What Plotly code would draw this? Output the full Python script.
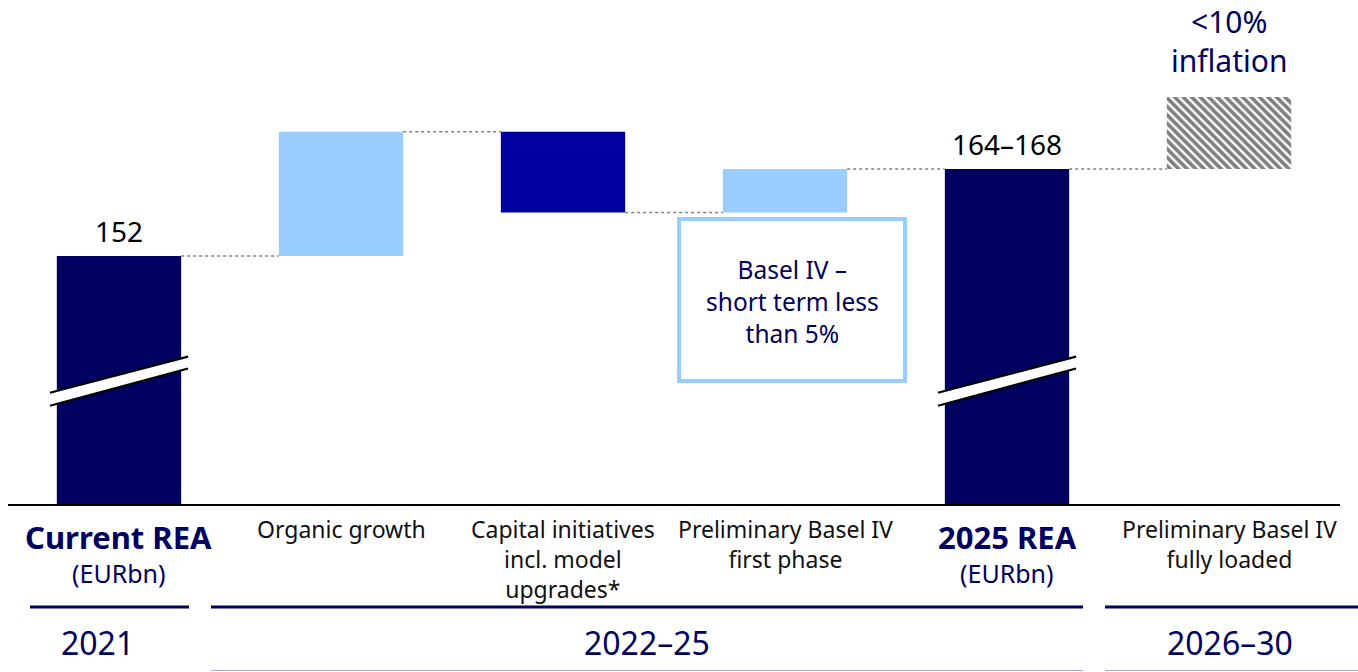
import plotly.graph_objects as go

# Waterfall of risk exposure amount (EURbn)
categories = [
    "Current REA",
    "Organic growth",
    "Capital initiatives<br>incl. model<br>upgrades*",
    "Preliminary Basel IV<br>first phase",
    "2025 REA",
    "Preliminary Basel IV<br>fully loaded",
]
step_values = [152, 20, -13, 7, 166, 11.6]
measures = ["total", "relative", "relative", "relative", "total", "relative"]
value_labels = ["152", "", "", "", "164–168", "<10%<br>inflation"]
period_labels = ["2021", "2022–25", "2026–30"]

NAVY = "#000060"
LIGHT = "#99ccff"
MID = "#0000a0"
bar_colors = [NAVY, LIGHT, MID, LIGHT, NAVY, "white"]

W, H = 1358, 672
PLOT_BOTTOM = 505          # pixel row of the baseline
Y_RANGE = [111.93, 193.2]  # broken axis: values below ~112 are cut away
BAR_W = 0.56

# running levels of the waterfall
bases, heights, levels = [], [], []
level = 0
for v, m in zip(step_values, measures):
    if m == "total":
        bases.append(0)
        heights.append(v)
        level = v
    else:
        bases.append(level)
        heights.append(v)
        level = level + v
    levels.append(level)

x = list(range(len(categories)))

fig = go.Figure()

# solid bars
fig.add_trace(go.Bar(
    x=x[:-1], y=heights[:-1], base=bases[:-1], width=BAR_W,
    marker=dict(color=bar_colors[:-1], line=dict(width=0)),
    hoverinfo="skip", showlegend=False,
))
# hatched outlook bar
fig.add_trace(go.Bar(
    x=[x[-1]], y=[heights[-1]], base=[bases[-1]], width=BAR_W,
    marker=dict(color="white", line=dict(width=0),
                pattern=dict(shape="\\", fgcolor="black", bgcolor="white",
                             size=6, solidity=0.6)),
    hoverinfo="skip", showlegend=False,
))

# dotted connectors between consecutive bars
for i in range(len(categories) - 1):
    fig.add_trace(go.Scatter(
        x=[x[i] + BAR_W / 2, x[i + 1] - BAR_W / 2], y=[levels[i], levels[i]],
        mode="lines", line=dict(color="#808080", width=1.3, dash="dot"),
        hoverinfo="skip", showlegend=False,
    ))

shapes = []
# axis-break marks on the two total bars
for i, m in enumerate(measures):
    if m != "total":
        continue
    x0, x1 = i - 0.311, i + 0.311
    shapes.append(dict(type="path", xref="x", yref="y",
                       path=f"M {x0},127.9 L {x1},133.9 L {x1},135.8 L {x0},130.0 Z",
                       fillcolor="white", line=dict(width=0), layer="above"))
    for y0, y1 in [(130.0, 135.8), (127.9, 133.9)]:
        shapes.append(dict(type="line", xref="x", yref="y", x0=x0, y0=y0, x1=x1, y1=y1,
                           line=dict(color="black", width=2.2), layer="above"))


def py(p):
    """pixel row -> paper y"""
    return (PLOT_BOTTOM - p) / PLOT_BOTTOM


def px(p):
    return p / W


# baseline
shapes.append(dict(type="line", xref="paper", yref="paper", x0=px(8), x1=px(1340),
                   y0=py(505), y1=py(505), line=dict(color="black", width=2.2)))
# period underlines
for a, b in [(30, 189), (211, 1083), (1105, 1358)]:
    shapes.append(dict(type="line", xref="paper", yref="paper", x0=px(a), x1=px(b),
                       y0=py(607), y1=py(607), line=dict(color=NAVY, width=3)))
for a, b in [(211, 1083), (1105, 1358)]:
    shapes.append(dict(type="line", xref="paper", yref="paper", x0=px(a), x1=px(b),
                       y0=py(670.5), y1=py(670.5), line=dict(color="#a8a8c8", width=1)))
# callout box
shapes.append(dict(type="rect", xref="paper", yref="paper", x0=px(679), x1=px(905),
                   y0=py(219), y1=py(381), line=dict(color=LIGHT, width=4),
                   fillcolor="white"))

FONT = "Noto Sans"
annotations = []


def note(**kw):
    kw.setdefault("showarrow", False)
    kw.setdefault("xanchor", "center")
    kw.setdefault("yanchor", "middle")
    annotations.append(kw)


# category labels
for i, (c, m) in enumerate(zip(categories, measures)):
    if m == "total":
        note(x=i, xref="x", y=py(537), yref="paper", text=f"<b>{c}</b>",
             font=dict(family=FONT, size=31, color=NAVY))
        note(x=i, xref="x", y=py(573), yref="paper", text="(EURbn)",
             font=dict(family=FONT, size=25, color=NAVY))
    else:
        note(x=i, xref="x", y=py(511), yref="paper", yanchor="top", text=c,
             font=dict(family=FONT, size=23, color="#111111"))

# value labels above bars
for i, t in enumerate(value_labels):
    if not t:
        continue
    top = bases[i] + heights[i]
    if "<br>" in t:
        note(x=i, xref="x", y=top, yref="y", yanchor="bottom", yshift=14, text=t,
             font=dict(family=FONT, size=30, color=NAVY))
    else:
        note(x=i, xref="x", y=top, yref="y", yanchor="bottom", yshift=4, text=t,
             font=dict(family=FONT, size=28, color="black"))

# period labels
for t, cx in zip(period_labels, [98, 647, 1230]):
    note(x=px(cx), xref="paper", y=py(642), yref="paper", text=t,
         font=dict(family=FONT, size=32, color=NAVY))

# callout text
note(x=px(792), xref="paper", y=py(301), yref="paper",
     text="Basel IV –<br>short term less<br>than 5%",
     font=dict(family=FONT, size=24.5, color=NAVY))

fig.update_layout(
    width=W, height=H,
    margin=dict(l=0, r=0, t=0, b=H - PLOT_BOTTOM),
    paper_bgcolor="white", plot_bgcolor="white",
    xaxis=dict(range=[-0.536, 5.581], visible=False, fixedrange=True),
    yaxis=dict(range=Y_RANGE, visible=False, fixedrange=True),
    barmode="overlay",
    shapes=shapes,
    annotations=annotations,
    showlegend=False,
)

fig.write_html("out.html", config={"displayModeBar": False})
